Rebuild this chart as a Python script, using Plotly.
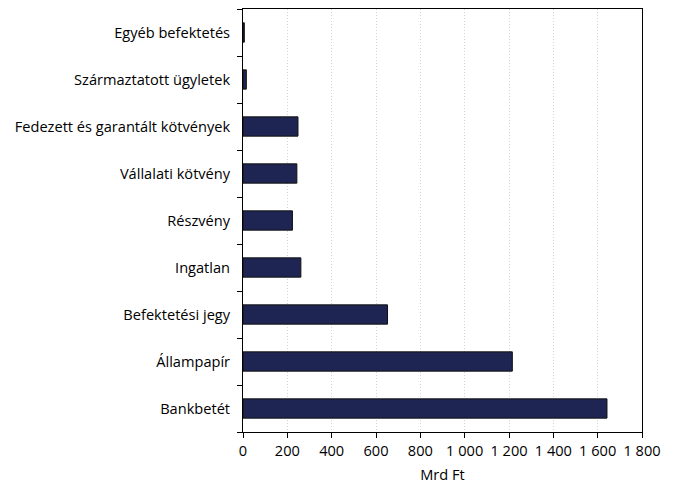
import plotly.graph_objects as go

categories = ["Bankbetét", "Állampapír", "Befektetési jegy", "Ingatlan", "Részvény",
              "Vállalati kötvény", "Fedezett és garantált kötvények",
              "Származtatott ügyletek", "Egyéb befektetés"]
values = [1642, 1215, 652, 261, 223, 243, 248, 15, 6]
tick_vals = [0, 200, 400, 600, 800, 1000, 1200, 1400, 1600, 1800]
tick_text = ["0", "200", "400", "600", "800", "1 000", "1 200", "1 400", "1 600", "1 800"]

fig = go.Figure(go.Bar(
    y=categories, x=values, orientation="h",
    marker=dict(color="#1f2552", line=dict(color="#111111", width=1)),
    width=0.41,
))

# page body adds an 8px offset; margins compensate
fig.update_layout(
    width=674, height=485,
    margin=dict(l=235, r=40, t=1, b=61, autoexpand=False),
    plot_bgcolor="white", paper_bgcolor="white",
    font=dict(family="Open Sans, sans-serif", size=14.6, color="#000000"),
    showlegend=False,
    bargap=0.59,
)
fig.update_xaxes(
    range=[0, 1800], tickvals=tick_vals, ticktext=tick_text,
    showgrid=True, gridcolor="#d4d4d4", griddash="1px,2px", gridwidth=1,
    showline=True, linecolor="#000000", linewidth=1, mirror=True,
    ticks="outside", ticklen=5, tickcolor="#000000",
    title=dict(text="Mrd Ft", standoff=11, font=dict(size=14.6)),
    zeroline=False, automargin=False,
)
fig.update_yaxes(
    type="category", tickson="boundaries",
    showgrid=False,
    showline=True, linecolor="#000000", linewidth=1, mirror=True,
    ticks="outside", ticklen=5, tickcolor="#000000",
    ticklabelstandoff=9, automargin=False,
)

fig.write_html("out.html")
